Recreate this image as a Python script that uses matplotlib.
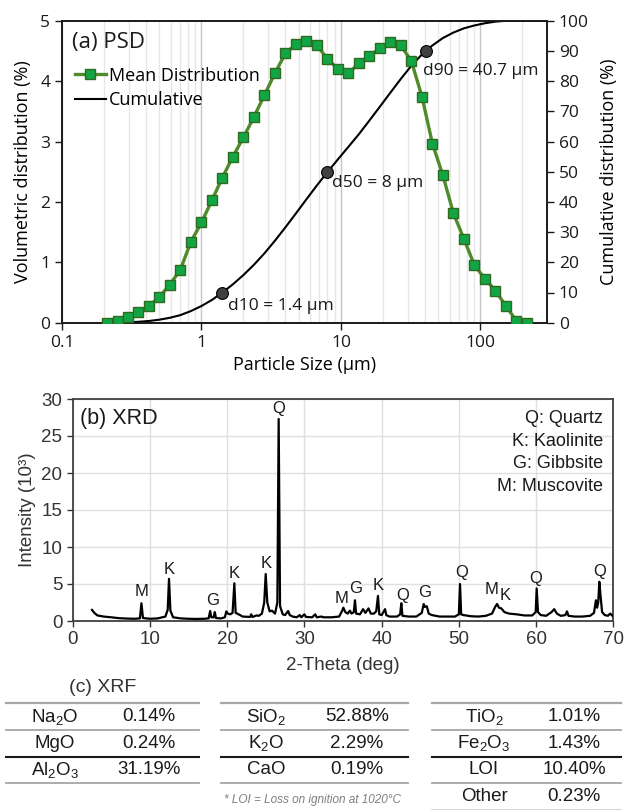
import numpy as np
import matplotlib
matplotlib.use("Agg")
import matplotlib.pyplot as plt
from matplotlib.lines import Line2D
from matplotlib.ticker import LogLocator, NullFormatter, FixedLocator

plt.rcParams['mathtext.fontset'] = 'custom'
plt.rcParams['mathtext.rm'] = 'Liberation Sans'
plt.rcParams['mathtext.it'] = 'Liberation Sans:italic'
plt.rcParams['mathtext.bf'] = 'Liberation Sans:bold'

# ---------------- (a) PSD data ----------------
size_um = [0.21, 0.25, 0.297, 0.353, 0.42, 0.50, 0.594, 0.706, 0.84, 1.0,
           1.19, 1.41, 1.68, 2.0, 2.38, 2.83, 3.36, 4.0, 4.76, 5.66,
           6.73, 8.0, 9.51, 11.3, 13.5, 16.0, 19.0, 22.6, 26.9, 32.0,
           38.1, 45.3, 53.8, 64.0, 76.1, 90.5, 107.6, 128.0, 152.0, 181.0, 215.0]
vol_pct = [0.0, 0.03, 0.10, 0.17, 0.27, 0.43, 0.63, 0.88, 1.34, 1.66,
           2.03, 2.40, 2.75, 3.07, 3.41, 3.77, 4.13, 4.46, 4.61, 4.66,
           4.59, 4.37, 4.20, 4.13, 4.30, 4.42, 4.54, 4.64, 4.59, 4.33,
           3.74, 2.96, 2.44, 1.81, 1.39, 0.95, 0.73, 0.53, 0.28, 0.03, 0.0]
d_sizes = [1.4, 8.0, 40.7]
d_pcts = [10, 50, 90]
d_labels = ["d10 = 1.4 µm", "d50 = 8 µm", "d90 = 40.7 µm"]
psd_xticks = [0.1, 1, 10, 100]
psd_xticklabels = ["0.1", "1", "10", "100"]

# ---------------- (b) XRD data ----------------
xrd_theta = [2.5, 2.8, 3.2, 4.0, 5.0, 6.0, 7.0, 8.0, 8.7, 8.9, 9.1, 10.0, 11.0, 12.0, 12.3, 12.47, 12.65,
             13.0, 14.0, 15.0, 16.0, 17.0, 17.6, 17.8, 17.95, 18.25, 18.4, 18.55, 19.2, 19.7, 19.9, 20.1,
             20.4, 20.7, 20.93, 21.1, 21.5, 22.0, 23.0, 23.1, 23.3, 23.8, 24.1, 24.5, 24.8, 24.99, 25.2,
             25.5, 25.8, 26.2, 26.5, 26.67, 26.85, 27.2, 27.5, 27.9, 28.1, 28.5, 29.0, 29.4, 29.6, 30.0,
             30.2, 31.0, 31.4, 31.6, 32.2, 32.5, 33.5, 34.5, 34.9, 35.05, 35.3, 35.6, 35.9, 36.1, 36.4,
             36.55, 36.7, 37.2, 37.6, 37.9, 38.3, 38.6, 39.0, 39.3, 39.53, 39.7, 40.0, 40.45, 40.6, 41.0,
             42.0, 42.4, 42.55, 42.7, 43.5, 44.5, 45.2, 45.45, 45.6, 45.85, 46.1, 46.5, 47.5, 48.5, 49.5,
             50.0, 50.15, 50.3, 50.6, 51.5, 52.5, 53.5, 54.3, 54.7, 54.95, 55.2, 55.5, 55.9, 56.5, 57.5,
             58.5, 59.5, 59.95, 60.08, 60.25, 60.6, 61.3, 62.0, 62.35, 62.7, 63.2, 63.8, 64.0, 64.2, 65.0,
             66.0, 67.0, 67.5, 67.75, 67.9, 68.05, 68.19, 68.35, 68.55, 68.9, 69.3, 69.6, 70.0]
xrd_int = [1.5, 1.1, 0.75, 0.6, 0.5, 0.38, 0.33, 0.3, 0.35, 2.4, 0.4, 0.3, 0.35, 0.6, 1.5, 5.7, 1.4,
           0.5, 0.35, 0.3, 0.28, 0.3, 0.35, 1.35, 0.5, 0.5, 1.2, 0.4, 0.35, 0.5, 1.3, 1.0,
           0.9, 1.1, 5.1, 1.1, 0.9, 0.6, 0.55, 0.9, 0.55, 0.75, 0.7, 1.0, 2.5, 6.35, 2.5,
           1.3, 1.4, 1.0, 2.5, 27.3, 2.0, 0.9, 0.8, 1.35, 0.8, 0.6, 0.5, 0.8, 0.5, 0.9,
           0.55, 0.5, 0.9, 0.5, 0.6, 0.5, 0.5, 0.6, 1.4, 1.8, 1.2, 1.0, 1.4, 1.0, 1.2,
           2.8, 1.0, 0.9, 1.6, 1.1, 1.7, 1.0, 1.0, 1.3, 3.4, 0.9, 0.8, 1.6, 0.8, 0.6,
           0.6, 0.9, 2.4, 0.7, 0.6, 0.6, 1.1, 2.3, 1.9, 2.0, 1.0, 0.8, 0.6, 0.6, 0.6,
           0.9, 5.0, 0.9, 0.8, 0.65, 0.6, 0.7, 1.0, 1.9, 2.3, 1.8, 1.7, 1.2, 1.0, 0.9,
           0.75, 0.75, 1.2, 4.4, 1.2, 0.8, 0.7, 1.2, 1.6, 1.0, 0.7, 0.8, 1.3, 0.7, 0.6,
           0.6, 0.7, 1.1, 2.8, 1.8, 2.5, 5.3, 3.4, 1.2, 0.8, 0.7, 1.0, 0.6]
peak_labels = ["M", "K", "G", "K", "K", "Q", "M", "G", "K", "Q", "G", "Q", "M", "K", "Q", "Q"]
peak_theta = [8.93, 12.47, 18.08, 20.93, 24.99, 26.67, 34.83, 36.68, 39.53, 42.68, 45.62, 50.32,
              54.25, 55.97, 59.99, 68.19]
peak_lab_int = [3.96, 6.98, 2.75, 6.44, 7.8, 28.7, 3.07, 4.42, 4.73, 3.51, 3.87, 6.53,
                4.28, 3.51, 5.77, 6.67]
phase_key = ["Q: Quartz", "K: Kaolinite", "G: Gibbsite", "M: Muscovite"]

# ---------------- (c) XRF data ----------------
xrf_oxides = [[r"Na$_2$O", "MgO", r"Al$_2$O$_3$"],
              [r"SiO$_2$", r"K$_2$O", "CaO"],
              [r"TiO$_2$", r"Fe$_2$O$_3$", "LOI", "Other"]]
xrf_values = [["0.14%", "0.24%", "31.19%"],
              ["52.88%", "2.29%", "0.19%"],
              ["1.01%", "1.43%", "10.40%", "0.23%"]]
xrf_note = "* LOI = Loss on ignition at 1020°C"

W, H = 624, 810
fig = plt.figure(figsize=(W / 100, H / 100), dpi=100)

def fx(px):
    return px / W

def fy(py):
    return 1 - py / H

PSD_FONT = ['Open Sans', 'DejaVu Sans']
XRD_FONT = ['Liberation Sans', 'DejaVu Sans']

# ================= (a) PSD =================
L, R, T, B = 62, 547, 20.7, 322.7
ax2 = fig.add_axes([fx(L), fy(B), fx(R) - fx(L), fy(T) - fy(B)])
ax = ax2.twinx()
ax2.yaxis.tick_right()
ax2.yaxis.set_label_position("right")
ax.yaxis.tick_left()
ax.yaxis.set_label_position("left")
ax.set_zorder(ax2.get_zorder() + 1)
ax.patch.set_visible(False)

ax2.set_xscale('log')
ax2.set_xlim(0.1, 300)
ax2.set_ylim(0, 100)
ax.set_ylim(0, 5)

ax2.xaxis.set_major_locator(FixedLocator(psd_xticks))
ax2.set_xticks(psd_xticks)
ax2.set_xticklabels(psd_xticklabels)
ax2.xaxis.set_minor_locator(LogLocator(base=10, subs=np.arange(2, 10)))
ax2.xaxis.set_minor_formatter(NullFormatter())
ax2.grid(which='minor', axis='x', color='#e6e6e6', lw=1.0)
ax2.grid(which='major', axis='x', color='#c4c4c4', lw=1.0)
ax2.set_axisbelow(True)

# cumulative
cum = np.cumsum(vol_pct)
cum = cum / cum[-1] * 100
cum_x = list(size_um) + [ax2.get_xlim()[1]]
cum_y = list(cum) + [100.0]
ax2.plot(cum_x, cum_y, color='black', lw=1.5, zorder=3)
ax2.plot(d_sizes, d_pcts, 'o', ms=8.5, mfc='#404040', mec='black', mew=0.8, zorder=4)
offs = [(6, -14), (5, -11), (-3, -20)]
for xs, ps, lab, o in zip(d_sizes, d_pcts, d_labels, offs):
    ax2.annotate(lab, (xs, ps), xytext=o, textcoords='offset pixels', ha='left', va='center',
                 fontsize=12.5, family=PSD_FONT, color='#1a1a1a')

ax.plot(size_um, vol_pct, '-s', color='#4f8a2b', lw=2.4, ms=7.6, mfc='#12a545', mec='#2f6a1e',
        mew=1.0, zorder=5)

ax2.set_yticks(np.arange(0, 101, 10))
ax.set_yticks(np.arange(0, 6, 1))
for a in (ax, ax2):
    for s in a.spines.values():
        s.set_color('#1a1a1a')
        s.set_linewidth(1.2)
    a.tick_params(which='major', direction='out', length=5, width=1.0, labelsize=12.5, colors='#1a1a1a')
    a.tick_params(which='minor', length=0)
    for t in a.get_xticklabels() + a.get_yticklabels():
        t.set_family(PSD_FONT)

ax.set_ylabel("Volumetric distribution (%)", fontsize=13, family=PSD_FONT, labelpad=6)
ax2.set_ylabel("Cumulative distribution (%)", fontsize=13, family=PSD_FONT, labelpad=8)
ax2.set_xlabel("Particle Size (µm)", fontsize=13, family=PSD_FONT, labelpad=4)

ax.text(0.021, 0.929, "(a) PSD", transform=ax.transAxes, ha='left', va='center',
        fontsize=16, family=PSD_FONT, color='#1a1a1a')
h1 = Line2D([], [], color='#4f8a2b', lw=2.4, marker='s', ms=7.6, mfc='#12a545', mec='#2f6a1e')
h2 = Line2D([], [], color='black', lw=1.5)
leg = ax.legend([h1, h2], ["Mean Distribution", "Cumulative"], loc='upper left',
                bbox_to_anchor=(0.0, 0.89), frameon=False, handlelength=1.75, handletextpad=0.15,
                borderaxespad=0.3, labelspacing=0.35, prop={'family': PSD_FONT, 'size': 13})

# ================= (b) XRD =================
L2, R2, T2, B2 = 72.7, 613.3, 399, 621
bx = fig.add_axes([fx(L2), fy(B2), fx(R2) - fx(L2), fy(T2) - fy(B2)])
bx.plot(xrd_theta, xrd_int, color='black', lw=1.6, zorder=3)
bx.set_xlim(0, 70)
bx.set_ylim(0, 30)
bx.set_xticks(np.arange(0, 71, 10))
bx.set_yticks(np.arange(0, 31, 5))
bx.grid(True, color='#e0e0e0', lw=1.0)
bx.set_axisbelow(True)
for s in bx.spines.values():
    s.set_color('#404040')
    s.set_linewidth(1.3)
bx.tick_params(direction='out', length=4, width=1.0, labelsize=13.5, colors='#333333')
for t in bx.get_xticklabels() + bx.get_yticklabels():
    t.set_family(XRD_FONT)
bx.set_ylabel("Intensity (10³)", fontsize=13.5, family=XRD_FONT, color='#333333', labelpad=4)
bx.set_xlabel("2-Theta (deg)", fontsize=13.5, family=XRD_FONT, color='#333333', labelpad=6)
for lab, th, yi in zip(peak_labels, peak_theta, peak_lab_int):
    bx.text(th, yi, lab, ha='center', va='center', fontsize=12, family=XRD_FONT, color='#1a1a1a')
bx.text(0.0135, 0.91, "(b) XRD", transform=bx.transAxes, ha='left', va='center',
        fontsize=15.5, family=XRD_FONT, color='#1a1a1a')
key_y = [0.914, 0.808, 0.710, 0.605]
for k, yk in zip(phase_key, key_y):
    bx.text(0.981, yk, k, transform=bx.transAxes, ha='right', va='center',
            fontsize=13, family=XRD_FONT, color='#1a1a1a')

# ================= (c) XRF table =================
fig.text(fx(103), fy(688), "(c) XRF", ha='center', va='center', fontsize=14,
         family=XRD_FONT, color='#333333')
tab_x = [(6, 199), (221, 408), (432, 621)]
col_c = [(55, 149), (266, 357), (484, 574)]
line_y = [703.3, 730, 756.7, 783.3, 810]
line_sty = [('#a6a6a6', 1.6), ('#a6a6a6', 1.3), ('#1a1a1a', 1.5), ('#a6a6a6', 1.3), ('#d0d0d0', 1.3)]
for ti in range(3):
    n = len(xrf_oxides[ti])
    x0, x1 = tab_x[ti]
    for li in range(n + 1):
        c, lw = line_sty[li]
        fig.add_artist(Line2D([fx(x0), fx(x1)], [fy(line_y[li]), fy(line_y[li])], color=c, lw=lw))
    for ri in range(n):
        yc = (line_y[ri] + line_y[ri + 1]) / 2
        fig.text(fx(col_c[ti][0]), fy(yc), xrf_oxides[ti][ri], ha='center', va='center',
                 fontsize=13.5, family=XRD_FONT, color='#1a1a1a')
        fig.text(fx(col_c[ti][1]), fy(yc), xrf_values[ti][ri], ha='center', va='center',
                 fontsize=13.5, family=XRD_FONT, color='#1a1a1a')
fig.text(fx(224), fy(800), xrf_note, ha='left', va='center', fontsize=8.5, style='italic',
         family=XRD_FONT, color='#7f7f7f')

fig.savefig("out.png", dpi=100)
